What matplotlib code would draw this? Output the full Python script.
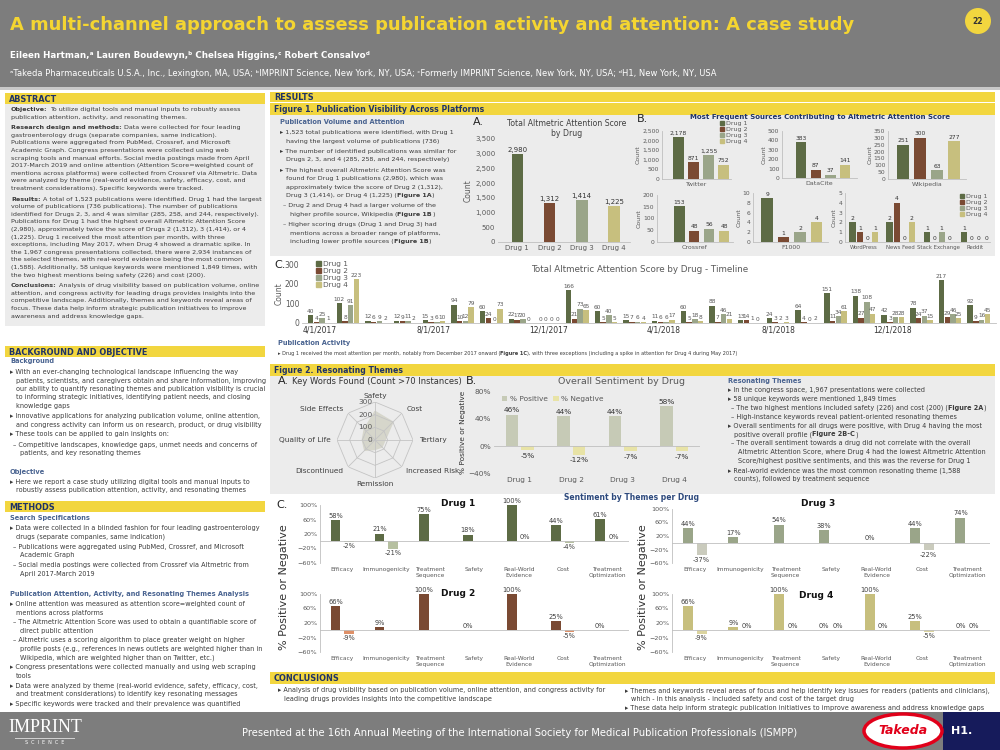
import numpy as np
import matplotlib.pyplot as plt
from matplotlib.patches import Rectangle, Ellipse, Patch
from matplotlib.ticker import StrMethodFormatter

plt.rcParams['font.family'] = ['DejaVu Sans']

# ---------------- data ----------------
drugs = ['Drug 1', 'Drug 2', 'Drug 3', 'Drug 4']
total_score = [2980, 1312, 1414, 1225]

twitter = [2178, 871, 1255, 752]
datacite = [383, 87, 37, 141]
wikipedia = [251, 300, 63, 277]
crossref = [153, 48, 56, 48]
f1000 = [9, 1, 2, 4]
small_sources = ['WordPress', 'News Feed', 'Stack Exchange', 'Reddit']
small_d1 = [2, 2, 1, 1]
small_d2 = [1, 4, 0, 0]
small_d3 = [0, 0, 1, 0]
small_d4 = [1, 2, 0, 0]

# monthly score, Apr 2017 - Mar 2019
timeline_d1 = [40, 102, 12, 12, 15, 94, 60, 22, 0, 166, 60, 15, 11, 60, 88, 13, 24, 64, 151, 138, 42, 78, 217, 92]
timeline_d2 = [4, 8, 6, 9, 3, 10, 24, 17, 0, 21, 5, 7, 6, 5, 7, 14, 3, 4, 11, 27, 3, 24, 29, 9]
timeline_d3 = [25, 91, 9, 11, 6, 12, 0, 20, 0, 73, 40, 6, 6, 18, 46, 1, 2, 0, 34, 108, 28, 37, 46, 16]
timeline_d4 = [1, 223, 2, 2, 10, 79, 73, 0, 0, 65, 5, 4, 17, 8, 21, 0, 3, 2, 61, 47, 28, 15, 25, 45]
date_labels = ['4/1/2017', '8/1/2017', '12/1/2017', '4/1/2018', '8/1/2018', '12/1/2018']

keywords = ['Safety', 'Cost', 'Tertiary', 'Increased Risk', 'Remission', 'Discontinued',
            'Quality of Life', 'Side Effects']
keyword_counts = [226, 200, 80, 78, 75, 115, 100, 120]

sent_pos = [46, 44, 44, 58]
sent_neg = [-5, -12, -7, -7]

themes = ['Efficacy', 'Immunogenicity', 'Treatment\nSequence', 'Safety', 'Real-World\nEvidence',
          'Cost', 'Treatment\nOptimization']
nan = np.nan
d1_pos = [58, 21, 75, 18, 100, 44, 61]
d1_neg = [-2, -21, nan, nan, 0, -4, 0]
d2_pos = [66, 9, 100, 0, 100, 25, 0]
d2_neg = [-9, nan, nan, nan, nan, -5, nan]
d3_pos = [44, 17, 54, 38, 0, 44, 74]
d3_neg = [-37, nan, nan, nan, nan, -22, nan]
d4_pos = [66, 9, 100, 0, 100, 25, 0]
d4_neg = [-9, 0, 0, 0, 0, -5, 0]

# ---------------- colours ----------------
YEL = '#f2d63f'
NAVY = '#1f3366'
SLATE = '#4a6491'
TXT = '#3b3b3b'
PANEL = '#ececec'
HEAD = '#7d7d7d'
AXC = '#bfbfbf'
TICK = '#595959'
C_DRUG = ['#5d6b45', '#7a4a33', '#9aa589', '#c7bf7e']
C_NEG = ['#b6c0a0', '#de9068', '#cacbbd', '#dbd49f']

W, H = 1000, 750
fig = plt.figure(figsize=(10, 7.5), dpi=100)
R = fig.canvas.get_renderer()


def fx(x):
    return x / W


def fy(y):
    return 1 - y / H


def box(x0, y0, x1, y1, color, z=0):
    fig.add_artist(Rectangle((fx(x0), fy(y1)), (x1 - x0) / W, (y1 - y0) / H, transform=fig.transFigure,
                             facecolor=color, edgecolor='none', zorder=z))


def ax_px(x0, y0, x1, y1, **kw):
    return fig.add_axes([fx(x0), fy(y1), (x1 - x0) / W, (y1 - y0) / H], **kw)


def txt(x, y, s, size=5, color=TXT, weight='normal', ha='left', va='center', **kw):
    return fig.text(fx(x), fy(y), s, fontsize=size, color=color, fontweight=weight, ha=ha, va=va, **kw)


def rich(x, y, s, size, color=TXT):
    # '**' toggles bold
    sp = size * 100 / 72 * 0.32
    xp = x
    for i, p in enumerate(s.split('**')):
        core = p.strip(' ')
        lead = len(p) - len(p.lstrip(' '))
        trail = (len(p) - len(p.rstrip(' '))) if core else 0
        xp += lead * sp
        if core:
            t = txt(xp, y, core, size, color, 'bold' if i % 2 else 'normal', va='baseline')
            xp += t.get_window_extent(R).width
        xp += trail * sp


def block(x, y, lines, dy, size=4.5, gap=1.5, color=TXT):
    for ln in lines:
        if ln == '':
            y += gap
            continue
        if ln.startswith('||'):
            rich(x + 10, y + 2, ln[2:].lstrip(), size, color)
        elif ln.startswith('|'):
            rich(x + 6, y + 2, ln[1:].lstrip(), size, color)
        elif ln.startswith('–'):
            rich(x + 3, y + 2, ln, size, color)
        else:
            rich(x, y + 2, ln, size, color)
        y += dy
    return y


def section(x0, y0, x1, y1, label, size=5.9):
    box(x0, y0, x1, y1, YEL)
    txt(x0 + 4, (y0 + y1) / 2 + 0.5, label, size, NAVY, 'bold')


def style(ax, size=4.5):
    for s in ['top', 'right']:
        ax.spines[s].set_visible(False)
    for s in ['left', 'bottom']:
        ax.spines[s].set_color(AXC)
        ax.spines[s].set_linewidth(0.6)
    ax.tick_params(length=0, labelsize=size, colors=TICK, pad=2)
    ax.set_facecolor('none')


# ---------------- page layout ----------------
box(0, 0, 1000, 87, HEAD)
box(0, 87, 1000, 90, '#c9c9c9')
box(0, 712, 1000, 750, HEAD)
box(5, 104, 265, 326, PANEL)
box(270, 115, 995, 256, PANEL)
box(270, 376, 995, 494, PANEL)

txt(10, 25, 'A multi-channel approach to assess publication activity and attention: A case study',
    12.9, '#f4d531', 'bold')
fig.add_artist(Ellipse((fx(978), fy(21)), 26 / W, 26 / H, transform=fig.transFigure,
                       facecolor='#f2d63f', edgecolor='none'))
txt(978, 21, '22', 5.5, '#333333', 'bold', ha='center')
txt(10, 55, 'Eileen Hartman,ᵃ Lauren Boudewyn,ᵇ Chelsea Higgins,ᶜ Robert Consalvoᵈ', 6.3, 'white', 'bold')
txt(10, 73, 'ᵃTakeda Pharmaceuticals U.S.A., Inc., Lexington, MA, USA; ᵇIMPRINT Science, New York, NY, USA; '
    'ᶜFormerly IMPRINT Science, New York, NY, USA; ᵈH1, New York, NY, USA', 6.0, 'white')

# ---------------- left column ----------------
section(5, 93, 265, 104, 'ABSTRACT')
abstract = [
    '**Objective:** To utilize digital tools and manual inputs to robustly assess',
    'publication attention, activity, and resonating themes.',
    '',
    '**Research design and methods:** Data were collected for four leading',
    'gastroenterology drugs (separate companies, same indication).',
    'Publications were aggregated from PubMed, Crossref, and Microsoft',
    'Academic Graph. Congress presentations were collected using web',
    'scraping tools and manual efforts. Social media postings made from April',
    '2017-March 2019 and online attention (Attention Score=weighted count of',
    'mentions across platforms) were collected from Crossref via Altmetric. Data',
    'were analyzed by theme (real-world evidence, safety, efficacy, cost, and',
    'treatment considerations). Specific keywords were tracked.',
    '',
    '**Results:** A total of 1,523 publications were identified. Drug 1 had the largest',
    'volume of publications (736 publications). The number of publications',
    'identified for Drugs 2, 3, and 4 was similar (285, 258, and 244, respectively).',
    'Publications for Drug 1 had the highest overall Altmetric Attention Score',
    '(2,980), approximately twice the score of Drugs 2 (1,312), 3 (1,414), or 4',
    '(1,225). Drug 1 received the most attention per month, with three',
    'exceptions, including May 2017, when Drug 4 showed a dramatic spike. In',
    'the 1,967 congress presentations collected, there were 2,934 instances of',
    'the selected themes, with real-world evidence being the most common',
    '(1,588). Additionally, 58 unique keywords were mentioned 1,849 times, with',
    'the two highest mentions being safety (226) and cost (200).',
    '',
    '**Conclusions:** Analysis of drug visibility based on publication volume, online',
    'attention, and congress activity for leading drugs provides insights into the',
    'competitive landscape. Additionally, themes and keywords reveal areas of',
    'focus. These data help inform strategic publication initiatives to improve',
    'awareness and address knowledge gaps.',
]
block(11, 109, abstract, 7.6, size=4.6, gap=3)

section(5, 346, 265, 357, 'BACKGROUND AND OBJECTIVE')
txt(10, 361, 'Background', 4.8, SLATE, 'bold')
background = [
    '▸ With an ever-changing technological landscape influencing the way',
    '| patients, scientists, and caregivers obtain and share information, improving',
    '| our ability to quantify resonating themes and publication visibility is crucial',
    '| to informing strategic initiatives, identifying patient needs, and closing',
    '| knowledge gaps',
    '',
    '▸ Innovative applications for analyzing publication volume, online attention,',
    '| and congress activity can inform us on research, product, or drug visibility',
    '',
    '▸ These tools can be applied to gain insights on:',
    '',
    '– Competitive landscapes, knowledge gaps, unmet needs and concerns of',
    '|| patients, and key resonating themes',
]
block(10, 372, background, 8.5, size=4.7, gap=1.5)
txt(10, 472, 'Objective', 4.8, SLATE, 'bold')
block(10, 482, ['▸ Here we report a case study utilizing digital tools and manual inputs to',
                '| robustly assess publication attention, activity, and resonating themes'], 8.5, size=4.7)

section(5, 501, 265, 512, 'METHODS')
txt(10, 518, 'Search Specifications', 4.8, SLATE, 'bold')
search = [
    '▸ Data were collected in a blinded fashion for four leading gastroenterology',
    '| drugs (separate companies, same indication)',
    '',
    '– Publications were aggregated using PubMed, Crossref, and Microsoft',
    '|| Academic Graph',
    '',
    '– Social media postings were collected from Crossref via Altmetric from',
    '|| April 2017-March 2019',
]
block(10, 528, search, 8.5, size=4.7, gap=1.7)
txt(10, 594, 'Publication Attention, Activity, and Resonating Themes Analysis', 4.8, SLATE, 'bold')
analysis = [
    '▸ Online attention was measured as attention score=weighted count of',
    '| mentions across platforms',
    '',
    '– The Altmetric Attention Score was used to obtain a quantifiable score of',
    '|| direct public attention',
    '',
    '– Altmetric uses a scoring algorithm to place greater weight on higher',
    '|| profile posts (e.g., references in news outlets are weighted higher than in',
    '|| Wikipedia, which are weighted higher than on Twitter, etc.)',
    '',
    '▸ Congress presentations were collected manually and using web scraping',
    '| tools',
    '',
    '▸ Data were analyzed by theme (real-world evidence, safety, efficacy, cost,',
    '| and treatment considerations) to identify key resonating messages',
    '',
    '▸ Specific keywords were tracked and their prevalence was quantified',
]
block(10, 604, analysis, 8.5, size=4.7, gap=1.2)

# ---------------- results: figure 1 ----------------
section(270, 92, 995, 102, 'RESULTS')
section(270, 103, 995, 115, 'Figure 1. Publication Visibility Across Platforms', 5.6)
txt(280, 122, 'Publication Volume and Attention', 4.8, SLATE, 'bold')
fig1_text = [
    '▸ 1,523 total publications were identified, with Drug 1',
    '| having the largest volume of publications (736)',
    '',
    '▸ The number of identified publications was similar for',
    '| Drugs 2, 3, and 4 (285, 258, and 244, respectively)',
    '',
    '▸ The highest overall Altmetric Attention Score was',
    '| found for Drug 1 publications (2,980), which was',
    '| approximately twice the score of Drug 2 (1,312),',
    '| Drug 3 (1,414), or Drug 4 (1,225) (**Figure 1A**)',
    '',
    '– Drug 2 and Drug 4 had a larger volume of the',
    '|| higher profile source, Wikipedia (**Figure 1B**)',
    '',
    '– Higher scoring drugs (Drug 1 and Drug 3) had',
    '|| mentions across a broader range of platforms,',
    '|| including lower profile sources (**Figure 1B**)',
]
block(280, 132, fig1_text, 8.5, size=4.6, gap=1.8)

# 1A
txt(473, 122, 'A.', 8, '#222222')
txt(567, 124, 'Total Altmetric Attention Score', 5.6, '#404040', ha='center')
txt(567, 134, 'by Drug', 5.6, '#404040', ha='center')
ax = ax_px(498, 139, 630, 242)
style(ax, 5)
xb = np.arange(len(drugs))
b = ax.bar(xb, total_score, 0.36, color=C_DRUG)
ax.bar_label(b, labels=[f'{v:,}' for v in total_score], padding=1, fontsize=5, color='#333333')
ax.set_ylim(0, 3500)
ax.set_yticks(np.arange(0, 3501, 500))
ax.yaxis.set_major_formatter(StrMethodFormatter('{x:,.0f}'))
ax.set_xticks(xb, drugs)
ax.set_xlim(-0.6, 3.5)
ax.spines['left'].set_visible(False)
ax.set_ylabel('Count', fontsize=5.5, color=TICK, labelpad=2)

# 1B
txt(637, 119, 'B.', 8, '#222222')
txt(820, 117, 'Most Frequent Sources Contributing to Altmetric Attention Score', 5.0, NAVY, 'bold', ha='center')


def source_panel(rect, vals, name, ymax, step, xlim, fmt='{:,}'):
    a = ax_px(*rect)
    style(a, 4.3)
    bb = a.bar(np.arange(4), vals, 0.7, color=C_DRUG)
    a.bar_label(bb, labels=[fmt.format(v) for v in vals], padding=1, fontsize=4.3, color='#333333')
    a.set_ylim(0, ymax)
    a.set_yticks(np.arange(0, ymax + 1, step))
    a.yaxis.set_major_formatter(StrMethodFormatter('{x:,.0f}'))
    a.set_xlim(*xlim)
    a.set_xticks([])
    a.set_xlabel(name, fontsize=4.5, color=TICK, labelpad=2)
    a.set_ylabel('Count', fontsize=4.5, color=TICK, labelpad=1)
    return a


source_panel((662, 131, 731, 179), twitter, 'Twitter', 2500, 500, (-1.1, 3.5))
source_panel((782, 131, 857, 178), datacite, 'DataCite', 500, 100, (-1.3, 3.8))
source_panel((888, 131, 966, 179), wikipedia, 'Wikipedia', 350, 50, (-0.9, 3.7))
source_panel((657, 195, 733, 242), crossref, 'Crossref', 200, 50, (-1.5, 3.6))
source_panel((753, 193, 828, 242), f1000, 'F1000', 10, 2, (-0.85, 3.7))

a = ax_px(845, 193, 990, 242)
style(a, 4.3)
xs = np.arange(len(small_sources))
for i, vals in enumerate([small_d1, small_d2, small_d3, small_d4]):
    bb = a.bar(xs + (i - 1.5) * 0.2, vals, 0.17, color=C_DRUG[i])
    a.bar_label(bb, padding=1, fontsize=4.3, color='#333333')
a.set_ylim(0, 5)
a.set_yticks(range(6))
a.set_xlim(-0.5, 3.4)
a.set_xticks(xs, small_sources)
a.tick_params(axis='x', labelsize=3.9)
a.set_ylabel('Count', fontsize=4.5, color=TICK, labelpad=1)

handles = [Patch(color=c) for c in C_DRUG]
legend_kw = dict(frameon=False, handlelength=0.7, handleheight=0.7, handletextpad=0.3,
                 labelspacing=0.1, borderpad=0, borderaxespad=0, labelcolor=TICK)
fig.legend(handles, drugs, loc='upper left', bbox_to_anchor=(fx(720), fy(121)), fontsize=4.5, **legend_kw)
fig.legend(handles, drugs, loc='upper left', bbox_to_anchor=(fx(960), fy(194)), fontsize=4.5, **legend_kw)

# 1C timeline
txt(274, 265, 'C.', 8, '#222222')
txt(640, 270, 'Total Altmetric Attention Score by Drug - Timeline', 6.3, TICK, ha='center')
ax = ax_px(302, 264, 996, 323)
style(ax, 5.5)
xm = np.arange(len(timeline_d1))
for i, vals in enumerate([timeline_d1, timeline_d2, timeline_d3, timeline_d4]):
    bb = ax.bar(xm + (i - 1.5) * 0.2, vals, 0.19, color=C_DRUG[i])
    ax.bar_label(bb, padding=1, fontsize=4.2, color=TICK)
ax.set_ylim(0, 300)
ax.set_yticks([0, 100, 200, 300])
ax.set_xlim(-0.6, 23.6)
ax.set_xticks(np.arange(0, 24, 4), date_labels)
ax.tick_params(axis='x', labelsize=5.5, labelcolor='#333333')
ax.spines['left'].set_visible(False)
ax.set_ylabel('Count', fontsize=5.5, color=TICK, labelpad=1)
fig.legend(handles, drugs, loc='upper left', bbox_to_anchor=(fx(316), fy(261)), fontsize=5.3, **legend_kw)

txt(278, 343, 'Publication Activity', 4.8, SLATE, 'bold')
block(278, 353, ['▸ Drug 1 received the most attention per month, notably from December 2017 onward '
                 '(**Figure 1C**), with three exceptions (including a spike in attention for Drug 4 during May 2017)'],
      8.5, size=3.6)

# ---------------- figure 2 ----------------
section(270, 364, 995, 376, 'Figure 2. Resonating Themes', 5.6)

# 2A radar
txt(278, 381, 'A.', 8, '#222222')
txt(292, 382, 'Key Words Found (Count >70 Instances)', 6, '#333333')
axr = ax_px(337, 402, 413, 478, projection='polar')
theta = np.linspace(0, 2 * np.pi, len(keywords), endpoint=False)
tc = np.append(theta, theta[0])
axr.set_theta_zero_location('N')
axr.set_theta_direction(-1)
axr.set_ylim(0, 300)
axr.grid(False)
axr.spines['polar'].set_visible(False)
axr.set_xticks([])
axr.set_yticks([])
axr.set_facecolor('none')
for r in [100, 200, 300]:
    axr.plot(tc, [r] * len(tc), color='#c4c4c4', lw=0.6)
for t in theta:
    axr.plot([t, t], [0, 300], color='#c4c4c4', lw=0.6)
axr.fill(tc, np.append(keyword_counts, keyword_counts[0]), color='#d6d6cb', zorder=0)
for t, name in zip(theta, keywords):
    s = np.sin(t)
    ha = 'center' if abs(s) < 1e-6 else ('left' if s > 0 else 'right')
    axr.text(t, 350, name, ha=ha, va='center', fontsize=5.3, color='#404040', clip_on=False)
for r in [0, 100, 200, 300]:
    axr.annotate(str(r), (0, r), xytext=(-2, 0), textcoords='offset points', ha='right', va='center',
                 fontsize=5.3, color=TICK)

# 2B
txt(466, 381, 'B.', 8, '#222222')
txt(622, 382, 'Overall Sentiment by Drug', 6.8, TICK, ha='center')
ax = ax_px(494, 391, 700, 474)
style(ax, 5.3)
bp = ax.bar(xb - 0.15, sent_pos, 0.24, color='#c6cab6', label='% Positive')
bn = ax.bar(xb + 0.15, sent_neg, 0.24, color='#e8e3a6', label='% Negative')
ax.bar_label(bp, fmt='%d%%', padding=1, fontsize=5.3, color='#333333')
ax.bar_label(bn, fmt='%d%%', padding=2, fontsize=5.3, color='#333333')
ax.axhline(0, color=AXC, lw=0.6)
ax.set_ylim(-40, 80)
ax.set_yticks([-40, 0, 40, 80])
ax.yaxis.set_major_formatter(StrMethodFormatter('{x:.0f}%'))
ax.set_xlim(-0.5, 3.5)
ax.set_xticks(xb, drugs)
ax.spines['left'].set_visible(False)
ax.spines['bottom'].set_visible(False)
ax.set_ylabel('% Positive or Negative', fontsize=5.3, color='#333333', labelpad=2)
ax.legend(loc='upper left', bbox_to_anchor=(0.04, 0.94), ncol=2, fontsize=5.3, columnspacing=0.8, **legend_kw)

# resonating themes text
txt(728, 381, 'Resonating Themes', 4.8, SLATE, 'bold')
resonating = [
    '▸ In the congress space, 1,967 presentations were collected',
    '▸ 58 unique keywords were mentioned 1,849 times',
    '– The two highest mentions included safety (226) and cost (200) (**Figure 2A**)',
    '– High-instance keywords reveal patient-oriented resonating themes',
    '▸ Overall sentiments for all drugs were positive, with Drug 4 having the most',
    '| positive overall profile (**Figure 2B-C**)',
    '– The overall sentiment towards a drug did not correlate with the overall',
    '|| Altmetric Attention Score, where Drug 4 had the lowest Altmetric Attention',
    '|| Score/highest positive sentiments, and this was the reverse for Drug 1',
    '▸ Real-world evidence was the most common resonating theme (1,588',
    '| counts), followed by treatment sequence',
]
block(728, 390, resonating, 8.9, size=4.7)

# 2C
txt(276, 505, 'C.', 8, '#222222')
txt(632, 497, 'Sentiment by Themes per Drug', 5.5, '#2e4a7d', 'bold', ha='center')


def theme_panel(rect, pos, neg, i, title, title_xy):
    a = ax_px(*rect)
    style(a, 4.6)
    xt = np.arange(len(themes))
    pos = np.array(pos, float)
    neg = np.array(neg, float)
    p = a.bar(xt - 0.15, np.nan_to_num(pos), 0.22, color=C_DRUG[i])
    n = a.bar(xt + 0.15, np.nan_to_num(neg), 0.22, color=C_NEG[i])
    a.bar_label(p, labels=['' if np.isnan(v) else f'{v:.0f}%' for v in pos], padding=1, fontsize=4.8,
                color='#404040')
    a.bar_label(n, labels=['' if np.isnan(v) else f'{v:.0f}%' for v in neg], padding=1, fontsize=4.8,
                color='#404040')
    a.axhline(0, color=AXC, lw=0.6)
    a.set_ylim(-60, 100)
    a.set_yticks([-60, -20, 20, 60, 100])
    a.yaxis.set_major_formatter(StrMethodFormatter('{x:.0f}%'))
    a.set_xlim(-0.5, len(themes) - 0.5)
    a.set_xticks(xt, themes)
    a.tick_params(axis='x', labelsize=4.2, pad=3)
    a.spines['bottom'].set_visible(False)
    txt(title_xy[0], title_xy[1], title, 6.5, '#111111', 'bold', ha='center')


theme_panel((320, 505, 629, 563), d1_pos, d1_neg, 0, 'Drug 1', (458, 503))
theme_panel((320, 594, 629, 652), d2_pos, d2_neg, 1, 'Drug 2', (458, 594))
theme_panel((672, 509, 990, 563), d3_pos, d3_neg, 2, 'Drug 3', (818, 503))
theme_panel((672, 594, 990, 652), d4_pos, d4_neg, 3, 'Drug 4', (816, 595))
txt(284, 587, '% Positive or Negative', 8, '#333333', rotation=90, ha='center')
txt(643, 587, '% Positive or Negative', 8, '#333333', rotation=90, ha='center')

# ---------------- conclusions ----------------
section(270, 672, 995, 684, 'CONCLUSIONS')
block(278, 690, ['▸ Analysis of drug visibility based on publication volume, online attention, and congress activity for',
                 '| leading drugs provides insights into the competitive landscape'], 9, size=4.7)
block(625, 690, ['▸ Themes and keywords reveal areas of focus and help identify key issues for readers (patients and clinicians),',
                 '| which - in this analysis - included safety and cost of the target drug',
                 '▸ These data help inform strategic publication initiatives to improve awareness and address knowledge gaps'],
      9.2, size=4.7)

# ---------------- footer ----------------
txt(45, 727, 'IMPRINT', 13, 'white', family='Liberation Serif', ha='center')
box(15, 738, 75, 739, '#d0d0d0')
txt(45, 742.5, 'S  C  I  E  N  C  E', 3.5, 'white', ha='center')
txt(520, 733, 'Presented at the 16th Annual Meeting of the International Society for Medical Publication '
    'Professionals (ISMPP)', 7.2, 'white', ha='center')
fig.add_artist(Ellipse((fx(903), fy(731)), 78 / W, 34 / H, transform=fig.transFigure,
                       facecolor='white', edgecolor='#e1001a', lw=2.5))
txt(903, 731, 'Takeda', 9, '#e1001a', 'bold', ha='center', style='italic')
box(943, 712, 1000, 750, '#161b5b')
txt(962, 731, 'H1.', 8, 'white', 'bold', ha='center')

fig.savefig('out.png', dpi=100)
